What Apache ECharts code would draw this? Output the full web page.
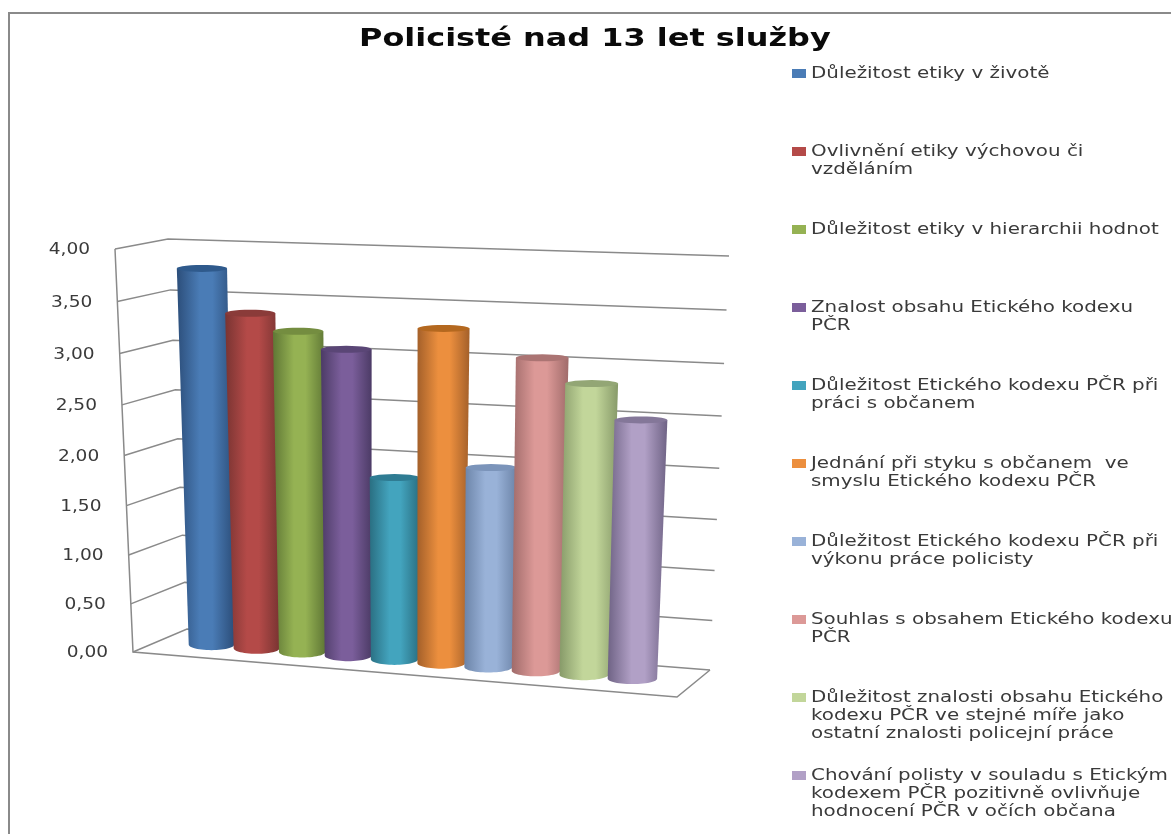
<!DOCTYPE html>
<html><head><meta charset="utf-8">
<style>html,body{margin:0;padding:0;background:#fff}#c{width:1171px;height:834px}</style>
<script src="https://cdn.jsdelivr.net/npm/echarts@6/dist/echarts.min.js"></script>
</head><body><div id="c"></div>
<script>
const chartTitle = 'Policisté nad 13 let služby';
const categories = [
  'Důležitost etiky v životě',
  'Ovlivnění etiky výchovou či\nvzděláním',
  'Důležitost etiky v hierarchii hodnot',
  'Znalost obsahu Etického kodexu\nPČR',
  'Důležitost Etického kodexu PČR při\npráci s občanem',
  'Jednání při styku s občanem  ve\nsmyslu Etického kodexu PČR',
  'Důležitost Etického kodexu PČR při\nvýkonu práce policisty',
  'Souhlas s obsahem Etického kodexu\nPČR',
  'Důležitost znalosti obsahu Etického\nkodexu PČR ve stejné míře jako\nostatní znalosti policejní práce',
  'Chování polisty v souladu s Etickým\nkodexem PČR pozitivně ovlivňuje\nhodnocení PČR v očích občana'
];
const values = [3.79, 3.38, 3.23, 3.08, 1.85, 3.33, 2.01, 3.10, 2.88, 2.56];
const tickValues = [0, 0.5, 1, 1.5, 2, 2.5, 3, 3.5, 4];
const tickLabels = ['0,00', '0,50', '1,00', '1,50', '2,00', '2,50', '3,00', '3,50', '4,00'];
const midColors  = ['#4A7CB6', '#B44A48', '#95B253', '#7B5E9B', '#43A4BE', '#EC8F3E', '#99B2D8', '#DC9997', '#C2D69A', '#B1A0C6'];
const edgeColors = ['#2C4E7A', '#793432', '#5F7735', '#4C3B66', '#2A6F82', '#A4602A', '#6C84A8', '#A06B6A', '#879A69', '#6F6385'];
const topColors  = ['#2F5A8C', '#8A3B39', '#748D40', '#5A4676', '#2F7C93', '#B4681F', '#7B94BA', '#AB7473', '#93A675', '#847799'];

// perspective frame of the box (screen points of the walls and floor)
const FL0=[133,652], FL4=[115,249], BL0=[187,629], BL4=[168,239], BR0=[710,670], BR4=[729,256], FR0=[677,697];
// plane in which the cylinders stand
const PB0=[160,640.5], PB1=[693.5,683.5], PT0=[147,244], PT1=[710.5,270];
const lerp=(a,b,t)=>[a[0]+(b[0]-a[0])*t, a[1]+(b[1]-a[1])*t];
const warpV=t=>0.95*t+0.05*t*t;
const warpU=s=>0.95*s+0.05*s*s;
const GREY='#8A8A8A';

function unit(params, api, x, v){
  const p=api.coord([x,v]), r=params.coordSys;
  return {n:(p[0]-r.x)/r.width, t:1-(p[1]-r.y)/r.height};
}
function renderFrame(params, api){
  const v=api.value(1), t=unit(params,api,0,v).t, f=warpV(t);
  const a=lerp(FL0,FL4,f), b=lerp(BL0,BL4,f), c=lerp(BR0,BR4,f);
  const style={stroke:GREY,lineWidth:1.5,fill:null};
  const kids=[{type:'polyline',shape:{points:[a,b,c]},style}];
  if(v===0) kids.push({type:'polyline',shape:{points:[FL4,FL0,FR0,BR0]},style});
  kids.push({type:'text',x:a[0]-25,y:a[1]+1,scaleX:1.16,
    style:{text:tickLabels[params.dataIndex],align:'right',verticalAlign:'middle',
      font:'16px "DejaVu Sans"',fill:'#3A3A3A'}});
  return {type:'group',children:kids};
}
function arc(cx,cy,rx,ry,from,to){
  const pts=[];
  for(let k=0;k<=28;k++){const a=from+(to-from)*k/28;pts.push([cx+rx*Math.cos(a),cy+ry*Math.sin(a)]);}
  return pts;
}
function makeRender(idx){
  return function(params, api){
    const x=api.value(0), v=api.value(1), q=unit(params,api,x,v);
    const u=warpU(0.0572+0.877*q.n), f=warpV(q.t);
    const b=lerp(PB0,PB1,u), tp=lerp(b,lerp(PT0,PT1,u),f);
    const w=45+5*u, rb=w/2, rt=w*(1+0.11*q.t)/2;
    const bottom=arc(b[0],b[1],rb,5.5,Math.PI,0);
    const pts=[[tp[0]-rt,tp[1]]].concat(bottom,[[tp[0]+rt,tp[1]]]);
    const e=edgeColors[idx], m=midColors[idx];
    return {type:'group',children:[
      {type:'polygon',shape:{points:pts},style:{fill:{type:'linear',x:0,y:0,x2:1,y2:0,colorStops:[
        {offset:0,color:e},{offset:0.4,color:m},{offset:0.62,color:m},{offset:1,color:e}]}}},
      {type:'polygon',shape:{points:arc(tp[0],tp[1],rt,3.5,0,Math.PI*2)},style:{fill:topColors[idx]}}
    ]};
  };
}

const frameSeries={type:'custom',name:'frame',silent:true,z:1,clip:false,encode:{x:0,y:1},
  data:tickValues.map(t=>[0,t]),renderItem:renderFrame};
const barSeries=categories.map((name,i)=>({type:'custom',name,z:2+i,clip:false,silent:true,
  encode:{x:0,y:1},itemStyle:{color:midColors[i]},data:[[i,values[i]]],renderItem:makeRender(i)}));

// swatches come from the legend component; names are real text stretched to the reference's wide lettering
const legends=categories.map((name,i)=>({show:true,left:792,top:68.5+78*i,padding:0,itemWidth:14,itemHeight:9,
  icon:'rect',selectedMode:false,formatter:()=>' ',
  data:[{name,itemStyle:{color:midColors[i],borderWidth:0}}],textStyle:{fontSize:10}}));
const legendTexts=categories.map((name,i)=>({type:'text',silent:true,x:811,y:65+78*i,scaleX:1.325,z:50,
  style:{text:name,font:'15px "DejaVu Sans"',lineHeight:18,fill:'#3A3A3A',align:'left',verticalAlign:'top'}}));
const titleText={type:'text',silent:true,x:359,y:40,scaleX:1.33,z:50,
  style:{text:chartTitle,font:'bold 24px "DejaVu Sans"',fill:'#0A0A0A',align:'left',verticalAlign:'middle'}};

const chart=echarts.init(document.getElementById('c'),null,{renderer:'canvas'});
chart.setOption({
  animation:false,backgroundColor:'#fff',
  legend:legends,
  grid:{left:190,top:249,width:480,height:403},
  xAxis:{type:'category',data:categories.map((c,i)=>i),show:false},
  yAxis:{type:'value',min:0,max:4,interval:0.5,show:false},
  graphic:[{type:'polyline',silent:true,z:0,shape:{points:[[9,834],[9,13],[1171,13]]},style:{stroke:'#8A8A8A',lineWidth:2,fill:null}},
    titleText].concat(legendTexts),
  series:[frameSeries].concat(barSeries)
});
</script></body></html>
